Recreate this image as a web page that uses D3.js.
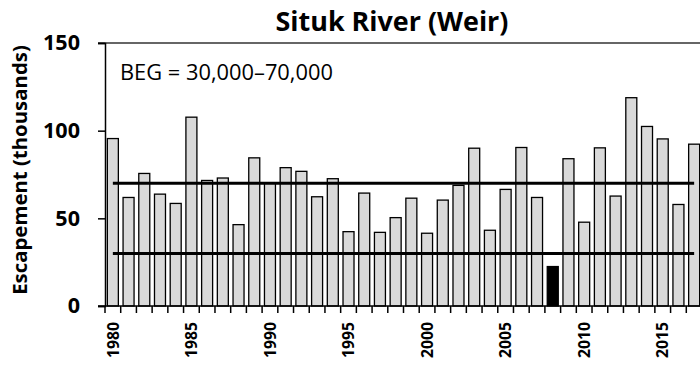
<!DOCTYPE html>
<html>
<head>
<meta charset="utf-8">
<script src="https://cdn.jsdelivr.net/npm/d3@7"></script>
<style>
  html, body { margin: 0; padding: 0; background: #fff; }
  svg { display: block; font-family: "Open Sans", Lato, sans-serif; }
</style>
</head>
<body>
<svg id="chart" width="700" height="368"></svg>
<script>
// Situk River weir escapement, thousands of fish
const years = d3.range(1980, 2018);
const escapement = [
  95.5, 61.9, 75.6, 63.8, 58.5, 107.7, 71.6, 73.0, 46.4, 84.5,
  70.1, 78.9, 76.8, 62.3, 72.6, 42.4, 64.4, 42.0, 50.4, 61.5,
  41.5, 60.4, 68.8, 90.0, 43.2, 66.5, 90.4, 61.9, 22.5, 84.0,
  47.8, 90.2, 62.7, 118.8, 102.4, 95.3, 57.9, 92.3
];
const belowGoalYears = [2008];
const goalBounds = [30, 70];
const yTicks = [0, 50, 100, 150];
const labelYears = [1980, 1985, 1990, 1995, 2000, 2005, 2010, 2015];

const svg = d3.select("#chart");
const plotLeft = 105, plotRight = 702, plotTop = 43, plotBottom = 306;

// Size a text element so its run spans the wanted length
function fitText(sel, width, base) {
  sel.attr("font-size", base);
  const w = sel.node().getComputedTextLength();
  sel.attr("font-size", base * width / w);
  return sel;
}

const x = d3.scaleBand()
  .domain(years)
  .range([plotLeft, plotRight])
  .paddingInner(0.3)
  .paddingOuter(0.15);

const y = d3.scaleLinear().domain([0, 150]).range([plotBottom, plotTop]);

// Title
svg.append("text")
  .attr("x", 392).attr("y", 31)
  .attr("text-anchor", "middle")
  .attr("font-weight", "bold")
  .text("Situk River (Weir)")
  .call(fitText, 233, 22);

// Y axis title
svg.append("text")
  .attr("transform", `translate(27,170) rotate(-90)`)
  .attr("text-anchor", "middle")
  .attr("font-weight", "bold")
  .text("Escapement (thousands)")
  .call(fitText, 250, 18);

// Bars
svg.append("g").selectAll("rect")
  .data(years.map((yr, i) => ({ yr, v: escapement[i] })))
  .join("rect")
  .attr("x", d => x(d.yr))
  .attr("width", x.bandwidth())
  .attr("y", d => y(d.v))
  .attr("height", d => y(0) - y(d.v))
  .attr("fill", d => belowGoalYears.includes(d.yr) ? "#000" : "#d9d9d9")
  .attr("stroke", "#000")
  .attr("stroke-width", 1.3);

// Goal range lines
const step = x.step();
const x0 = x(years[0]) + x.bandwidth() / 2;
const x1 = x(years[years.length - 1]) + x.bandwidth() / 2;
svg.append("g").selectAll("line")
  .data(goalBounds)
  .join("line")
  .attr("x1", x0).attr("x2", x1)
  .attr("y1", d => y(d)).attr("y2", d => y(d))
  .attr("stroke", "#000")
  .attr("stroke-width", 3);

// Top frame line
svg.append("line")
  .attr("x1", plotLeft - 7).attr("x2", plotRight)
  .attr("y1", y(150)).attr("y2", y(150))
  .attr("stroke", "#333").attr("stroke-width", 1.5);

// Y axis
const yAxis = svg.append("g")
  .attr("transform", `translate(${plotLeft},0)`)
  .call(d3.axisLeft(y).tickValues(yTicks).tickSize(7).tickPadding(18));
yAxis.select(".domain").attr("stroke", "#000").attr("stroke-width", 1.5);
yAxis.selectAll(".tick line").attr("stroke", "#000").attr("stroke-width", 1.5);
const yLabels = yAxis.selectAll(".tick text")
  .attr("font-family", "'Open Sans', Lato, sans-serif")
  .attr("font-weight", "bold")
  .attr("fill", "#000");
yLabels.filter(d => d === 150).call(fitText, 37, 18);
yLabels.attr("font-size", yLabels.filter(d => d === 150).attr("font-size"));

// X axis baseline and year boundary ticks
svg.append("line")
  .attr("x1", plotLeft - 7).attr("x2", plotRight)
  .attr("y1", y(0)).attr("y2", y(0))
  .attr("stroke", "#000").attr("stroke-width", 1.5);
svg.append("g").selectAll("line")
  .data(years)
  .join("line")
  .attr("x1", d => x(d) - step * x.paddingInner() / 2)
  .attr("x2", d => x(d) - step * x.paddingInner() / 2)
  .attr("y1", y(0)).attr("y2", y(0) + 7)
  .attr("stroke", "#000").attr("stroke-width", 1.5);

// Year labels
const yearText = svg.append("g").selectAll("text")
  .data(labelYears)
  .join("text")
  .attr("text-anchor", "end")
  .attr("font-weight", "bold")
  .text(d => d);
fitText(yearText.filter((d, i) => i === 0), 36, 14);
const yearSize = +yearText.filter((d, i) => i === 0).attr("font-size");
yearText
  .attr("font-size", yearSize)
  .attr("transform", d => `translate(${x(d) + x.bandwidth() / 2 + yearSize * 0.36},${y(0) + 16}) rotate(-90)`);

// Goal annotation
svg.append("text")
  .attr("x", 120).attr("y", 80)
  .text("BEG = 30,000\u201370,000")
  .call(fitText, 213, 18);
</script>
</body>
</html>
